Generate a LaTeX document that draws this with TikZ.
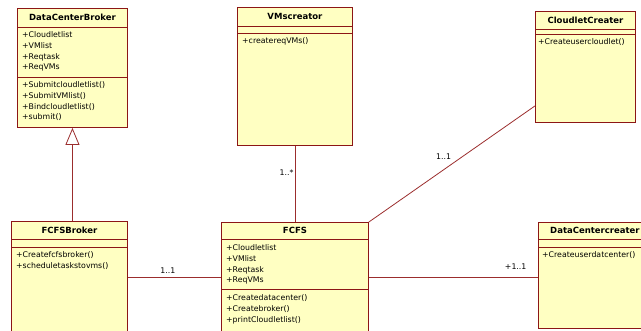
\documentclass[tikz,border=0pt]{standalone}
\usepackage{fontspec}
\newfontfamily\umlfont{DejaVu Sans}
\usepackage{tikz}
\usetikzlibrary{calc,positioning,arrows.meta}
\definecolor{umlfill}{RGB}{255,255,194}
\definecolor{umledge}{RGB}{140,22,22}
\definecolor{umlline}{RGB}{155,45,45}
\tikzset{
classbox/.style={draw=umledge,fill=umlfill,line width=0.9pt,anchor=north west,inner sep=0pt},
classname/.style={font=\umlfont\bfseries\fontsize{8.5}{9}\selectfont,inner sep=0pt},
members/.style={anchor=north west,align=left,inner sep=0pt,font=\umlfont\fontsize{7.8}{10.7}\selectfont},
sepline/.style={draw=umledge,line width=0.9pt},
assoc/.style={draw=umlline,line width=0.8pt},
inherit/.style={assoc,-{Triangle[open,length=17pt,width=14pt]}},
mult/.style={font=\umlfont\fontsize{7.8}{9}\selectfont,inner sep=1pt}
}

\begin{document}
\begin{tikzpicture}[x=1pt,y=-1pt]
\useasboundingbox (0,0) rectangle (641,331);
\clip (0,0) rectangle (641,331);
\node[classbox,minimum width=110pt,minimum height=119pt] (dcb) at (17,8) {};
\node[classname] (dcbname) at ($(dcb.north)+(0,9.5)$) {DataCenterBroker};
\draw[sepline] ($(dcb.north west)+(0,19)$) -- ($(dcb.north east)+(0,19)$);
\draw[sepline] ($(dcb.north west)+(0,69)$) -- ($(dcb.north east)+(0,69)$);
\node[members] (dcbattr) at ($(dcb.north west)+(5,23.5)$) {+Cloudletlist\\+VMlist\\+Reqtask\\+ReqVMs};
\node[members] (dcbops) at ($(dcb.north west)+(5,73.5)$) {+Submitcloudletlist()\\+SubmitVMlist()\\+Bindcloudletlist()\\+submit()};

\node[classbox,minimum width=115pt,minimum height=138pt] (vms) at (237,7) {};
\node[classname] (vmsname) at ($(vms.north)+(0,9.5)$) {VMscreator};
\draw[sepline] ($(vms.north west)+(0,19)$) -- ($(vms.north east)+(0,19)$);
\draw[sepline] ($(vms.north west)+(0,26)$) -- ($(vms.north east)+(0,26)$);
\node[members] (vmsops) at ($(vms.north west)+(5,30.5)$) {+createreqVMs()};

\node[classbox,minimum width=100pt,minimum height=111pt] (cc) at (535,11) {};
\node[classname] (ccname) at ($(cc.north)+(0,9)$) {CloudletCreater};
\draw[sepline] ($(cc.north west)+(0,18)$) -- ($(cc.north east)+(0,18)$);
\draw[sepline] ($(cc.north west)+(0,23)$) -- ($(cc.north east)+(0,23)$);
\node[members] (ccops) at ($(cc.north west)+(3,27.5)$) {+Createusercloudlet()};
\coordinate (ccport) at ($(cc.south west)+(0,-17)$);

\node[classbox,minimum width=116pt,minimum height=112pt] (fcfsb) at (11,221) {};
\node[classname] (fcfsbname) at ($(fcfsb.north)+(0,9)$) {FCFSBroker};
\draw[sepline] ($(fcfsb.north west)+(0,18)$) -- ($(fcfsb.north east)+(0,18)$);
\draw[sepline] ($(fcfsb.north west)+(0,26)$) -- ($(fcfsb.north east)+(0,26)$);
\node[members] (fcfsbops) at ($(fcfsb.north west)+(5,30.5)$) {+Createfcfsbroker()\\+scheduletaskstovms()};

\node[classbox,minimum width=147pt,minimum height=110pt] (fcfs) at (221,222) {};
\node[classname] (fcfsname) at ($(fcfs.north)+(0,8.5)$) {FCFS};
\draw[sepline] ($(fcfs.north west)+(0,17)$) -- ($(fcfs.north east)+(0,17)$);
\draw[sepline] ($(fcfs.north west)+(0,67)$) -- ($(fcfs.north east)+(0,67)$);
\node[members] (fcfsattr) at ($(fcfs.north west)+(5,22.5)$) {+Cloudletlist\\+VMlist\\+Reqtask\\+ReqVMs};
\node[members] (fcfsops) at ($(fcfs.north west)+(5,72.5)$) {+Createdatacenter()\\+Createbroker()\\+printCloudletlist()};

\node[classbox,minimum width=113pt,minimum height=106pt] (dcc) at (538,222) {};
\node[classname] (dccname) at ($(dcc.north)+(0,8.5)$) {DataCentercreater};
\draw[sepline] ($(dcc.north west)+(0,17)$) -- ($(dcc.north east)+(0,17)$);
\draw[sepline] ($(dcc.north west)+(0,25)$) -- ($(dcc.north east)+(0,25)$);
\node[members] (dccops) at ($(dcc.north west)+(4,29.5)$) {+Createuserdatcenter()};

\draw[inherit] (fcfsb.north -| dcb.south) -- (dcb.south);
\draw[assoc] (vms.south) -- node[mult,left,pos=0.35] {1..*} (fcfs.north);
\draw[assoc] (ccport) -- node[mult,pos=0.55,above=9pt] {1..1} (fcfs.north east);
\draw[assoc] (fcfsb.east) -- node[mult,pos=0.43,above=3pt] {1..1} (fcfs.west);
\draw[assoc] (fcfs.east) -- node[mult,pos=0.868,above=7pt] {+1..1} (fcfs.east -| dcc.west);
\end{tikzpicture}
\end{document}
